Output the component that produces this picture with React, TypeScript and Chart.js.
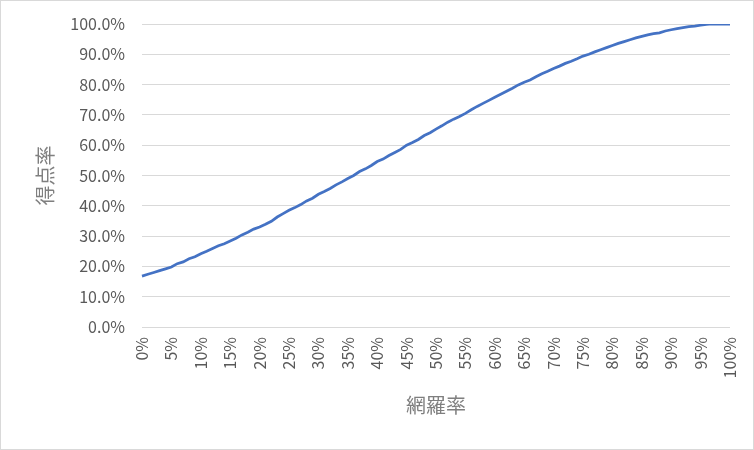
import React, { useEffect, useRef } from "react";
import { Chart, registerables } from "chart.js";

Chart.register(...registerables);

// x categories: coverage 0%..100% in 1% steps
const coverage: string[] = Array.from({ length: 101 }, (_, i) => `${i}%`);

// score rate (%), one value per 1% of coverage
const scoreRate: number[] = [
  16.8, 17.4, 18.0, 18.6, 19.2, 19.8,
  20.9, 21.5, 22.5, 23.2, 24.2,
  25.0, 25.9, 26.8, 27.5, 28.4,
  29.3, 30.4, 31.3, 32.3, 33.0,
  33.9, 34.9, 36.3, 37.4, 38.5,
  39.4, 40.4, 41.6, 42.5, 43.8,
  44.7, 45.7, 46.9, 47.9, 49.0,
  50.0, 51.3, 52.2, 53.3, 54.6,
  55.4, 56.6, 57.6, 58.6, 60.0,
  60.9, 61.9, 63.2, 64.1, 65.3,
  66.4, 67.6, 68.6, 69.5, 70.5,
  71.7, 72.8, 73.8, 74.8, 75.8,
  76.8, 77.8, 78.8, 79.9, 80.8,
  81.5, 82.6, 83.6, 84.4, 85.3,
  86.1, 87.0, 87.7, 88.5, 89.4,
  90.0, 90.8, 91.5, 92.2, 92.9,
  93.6, 94.2, 94.8, 95.4, 95.9,
  96.4, 96.8, 97.1, 97.7, 98.1,
  98.5, 98.8, 99.1, 99.3, 99.6,
  99.9, 100, 100, 100, 100,
];

const xTitle = "網羅率";
const yTitle = "得点率";

const FONT = "'Noto Sans CJK JP', 'Noto Sans', sans-serif";

export default function App() {
  const ref = useRef<HTMLCanvasElement | null>(null);

  useEffect(() => {
    document.body.style.margin = "0";
    const canvas = ref.current;
    if (!canvas) return;

    const bgPlugin = {
      id: "bgBorder",
      beforeDraw(chart: any) {
        const { ctx, width, height } = chart;
        ctx.save();
        ctx.fillStyle = "#ffffff";
        ctx.fillRect(0, 0, width, height);
        ctx.strokeStyle = "#d9d9d9";
        ctx.lineWidth = 1;
        ctx.strokeRect(0.5, 0.5, width - 1, height - 1);
        ctx.restore();
      },
    };

    const chart = new Chart(canvas, {
      type: "line",
      data: {
        labels: coverage,
        datasets: [
          {
            data: scoreRate,
            borderColor: "#4472c4",
            borderWidth: 2.75,
            pointRadius: 0,
            tension: 0,
            fill: false,
          },
        ],
      },
      options: {
        animation: false,
        responsive: false,
        maintainAspectRatio: false,
        devicePixelRatio: 1,
        layout: { padding: { top: 24, right: 24, left: 0, bottom: 0 } },
        plugins: {
          legend: { display: false },
          tooltip: { enabled: false },
        },
        scales: {
          x: {
            type: "category",
            offset: false,
            grid: { display: false, drawTicks: false },
            border: { display: false },
            ticks: {
              autoSkip: false,
              maxRotation: 90,
              minRotation: 90,
              padding: 10,
              color: "#595959",
              font: { family: FONT, size: 16 },
              callback: (_v: any, i: number) => (i % 5 === 0 ? coverage[i] : ""),
            },
            title: {
              display: true,
              text: xTitle,
              color: "#7f7f7f",
              font: { family: FONT, size: 20 },
              padding: 33,
            },
            afterFit: (s: any) => {
              s.height = 123;
              s.paddingLeft = 0;
              s.paddingRight = 0;
            },
          },
          y: {
            min: 0,
            max: 100,
            grid: { color: "#d9d9d9", lineWidth: 1, drawTicks: false },
            border: { display: false },
            ticks: {
              stepSize: 10,
              padding: 17,
              color: "#595959",
              font: { family: FONT, size: 16 },
              callback: (v: any) => `${Number(v).toFixed(1)}%`,
            },
            title: {
              display: true,
              text: yTitle,
              color: "#7f7f7f",
              font: { family: FONT, size: 20 },
              padding: 33,
            },
            afterFit: (s: any) => {
              s.width = 142;
              s.paddingTop = 0;
              s.paddingBottom = 0;
            },
          },
        },
      },
      plugins: [bgPlugin],
    });

    return () => chart.destroy();
  }, []);

  return (
    <div style={{ width: 754, height: 450 }}>
      <canvas ref={ref} width={754} height={450} style={{ display: "block", width: 754, height: 450 }} />
    </div>
  );
}
